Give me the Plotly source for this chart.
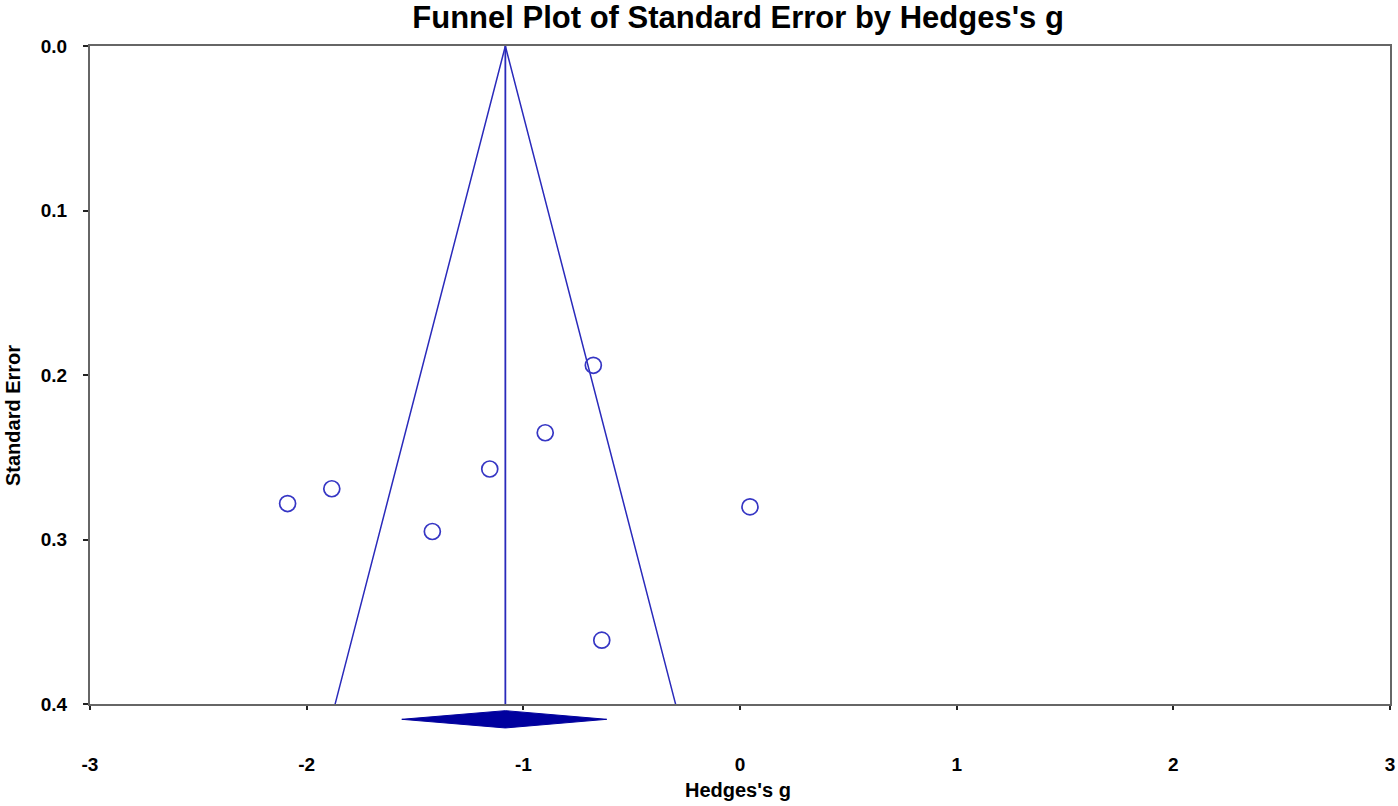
import plotly.graph_objects as go

# studies: Hedges's g and its standard error
hedges_g = [-2.088, -1.884, -1.420, -1.155, -0.899, -0.677, 0.046, -0.638]
std_err = [0.278, 0.269, 0.295, 0.257, 0.235, 0.194, 0.280, 0.361]

# pooled estimate and its 95% interval (diamond)
pooled_g = -1.083
ci_low = -1.561
ci_high = -0.615

# funnel limits (left edge, apex, right edge)
funnel_x = [-1.869, -1.083, -0.297]
funnel_se = [0.4, 0.0, 0.4]

x_ticks = [-3, -2, -1, 0, 1, 2, 3]
y_ticks = [0.0, 0.1, 0.2, 0.3, 0.4]

line_blue = "#2a2abb"
font_name = "Liberation Sans, Arial, sans-serif"

fig = go.Figure()

fig.add_trace(go.Scatter(x=funnel_x, y=funnel_se, mode="lines",
                         line=dict(color=line_blue, width=1.5), hoverinfo="skip"))
fig.add_trace(go.Scatter(x=[pooled_g, pooled_g], y=[0.0, 0.4], mode="lines",
                         line=dict(color=line_blue, width=1.8), hoverinfo="skip"))
fig.add_trace(go.Scatter(x=hedges_g, y=std_err, mode="markers",
                         marker=dict(symbol="circle-open", size=16, color="#3636c4",
                                     line=dict(width=1.7))))

# diamond below the axis, drawn on its own small y axis
h = 0.58
fig.add_trace(go.Scatter(x=[ci_low, pooled_g, ci_high, pooled_g, ci_low],
                         y=[0, h, 0, -h, 0], mode="lines", fill="toself",
                         fillcolor="#00009e", line=dict(color="#00009e", width=1),
                         xaxis="x2", yaxis="y2", hoverinfo="skip"))

fig.update_layout(
    width=1406, height=814, autosize=False,
    margin=dict(l=90, r=16, t=46, b=10),
    plot_bgcolor="white", paper_bgcolor="white",
    showlegend=False,
    font=dict(family=font_name, color="black", size=19, weight="bold"),
    title=dict(text="Funnel Plot of Standard Error by Hedges's g",
               x=0.4985, xref="paper", xanchor="center",
               y=1 - 17 / 806, yref="container", yanchor="middle",
               font=dict(size=31, family=font_name, weight="bold")),
    xaxis=dict(range=[-3, 3], tickvals=x_ticks, ticktext=[str(v) for v in x_ticks],
               showgrid=False, zeroline=False, showline=True, linecolor="#666666",
               linewidth=2, mirror=True, ticks="outside", ticklen=4, tickwidth=1.5,
               tickcolor="#222222", ticklabelstandoff=38, anchor="y"),
    yaxis=dict(range=[0.4, 0.0], domain=[0.1187, 1], tickvals=y_ticks,
               ticktext=["%.1f" % v for v in y_ticks],
               showgrid=False, zeroline=False, showline=True, linecolor="#666666",
               linewidth=2, mirror=True, ticks="outside", ticklen=5, tickwidth=1.5,
               tickcolor="#222222", ticklabelstandoff=12, anchor="x"),
    xaxis2=dict(matches="x", visible=False, anchor="y2"),
    yaxis2=dict(domain=[0.0787, 0.1186], range=[-1, 1], visible=False,
                fixedrange=True, anchor="x2"),
    annotations=[
        dict(text="Hedges's g", x=0.4985, y=0.004, xref="paper", yref="paper",
             xanchor="center", yanchor="middle", showarrow=False,
             font=dict(size=20, family=font_name, weight="bold")),
        dict(text="Standard Error", x=-0.0592, y=0.5047, xref="paper", yref="paper",
             xanchor="center", yanchor="middle", textangle=-90, showarrow=False,
             font=dict(size=20, family=font_name, weight="bold")),
    ],
)

fig.write_html("out.html", config={"displayModeBar": False},
               post_script="document.body.style.margin='0px';")
